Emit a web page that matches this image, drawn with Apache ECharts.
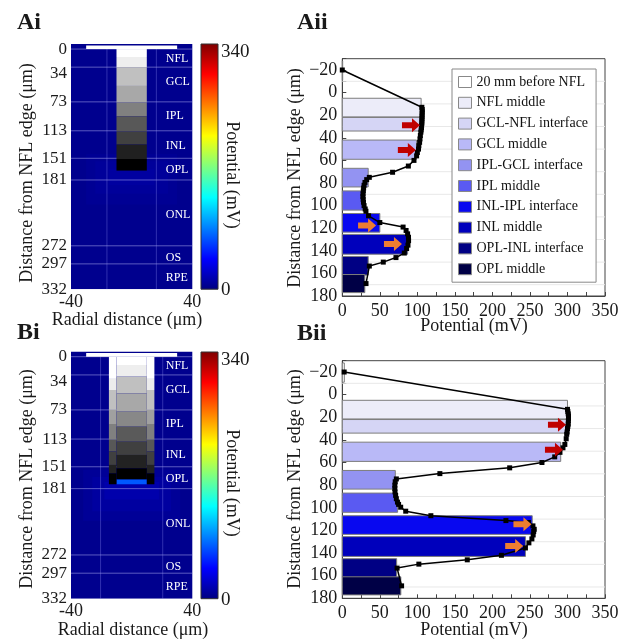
<!DOCTYPE html>
<html>
<head>
<meta charset="utf-8">
<script src="https://cdn.jsdelivr.net/npm/echarts@6/dist/echarts.min.js"></script>
<style>
html, body { margin: 0; padding: 0; background: #fff; }
#chart { width: 633px; height: 640px; }
</style>
</head>
<body>
<div id="chart"></div>
<script>
// ---- Retina cross-section (panels Ai / Bi) ----
const depthTicks = [0, 34, 73, 113, 151, 181, 272, 297, 332];
const layerLines = [0, 25, 73, 113, 151, 181, 272, 297];
const layerNames = ['NFL', 'GCL', 'IPL', 'INL', 'OPL', 'ONL', 'OS', 'RPE'];
const layerLabelDepth = [13, 46, 92, 134, 167, 229, 288, 316];
const radialTicks = [-40, 40];
const radialLinesA = [-16.3, 16.3];
const radialLinesB = [-20.5, 20.5];
const colorbarTicks = [0, 340];

// potential field cells: [x0, x1, depth0, depth1, potential mV]
const fieldA = [[-40, 40, -7, 332, 5], [-30, 30, 145, 215, 7], [-24, 24, 155, 200, 9], [-15, 15, 166, 188, 11]];
const fieldB = [[-40, 40, -7, 332, 5], [-32, 32, 155, 225, 8], [-26, 26, 165, 212, 11], [-18, 18, 172, 196, 15], [-10, 10, 168, 175, 72]];

// stimulating electrode footprint: [x0, x1, depth0, depth1, grey level]
const electrodeA = [
  [-30, 30, -5, 0, 255],
  [-10, 10, 0, 11, 255], [-10, 10, 11, 25, 238], [-10, 10, 25, 51, 192],
  [-10, 10, 51, 74, 168], [-10, 10, 74, 93, 128], [-10, 10, 93, 114, 88],
  [-10, 10, 114, 132, 64], [-10, 10, 132, 152, 32], [-10, 10, 152, 168, 0]
];
const electrodeB = [
  [-30, 30, -5, 0, 255],
  [-15, -10, 0, 30.5, 255], [10, 15, 0, 30.5, 255],
  [-15, -10, 30.5, 45.7, 236], [10, 15, 30.5, 45.7, 236],
  [-15, -10, 45.7, 73, 192], [10, 15, 45.7, 73, 192],
  [-15, -10, 73, 92.3, 160], [10, 15, 73, 92.3, 160],
  [-15, -10, 92.3, 114, 128], [10, 15, 92.3, 114, 128],
  [-15, -10, 114, 130, 88], [10, 15, 114, 130, 88],
  [-15, -10, 130, 148.5, 64], [10, 15, 130, 148.5, 64],
  [-15, -10, 148.5, 160, 34], [10, 15, 148.5, 160, 34],
  [-15, -10, 160, 175, 0], [10, 15, 160, 175, 0],
  [-10, 10, 0, 11.4, 255], [-10, 10, 11.4, 27.4, 238], [-10, 10, 27.4, 50.3, 192],
  [-10, 10, 50.3, 75.4, 168], [-10, 10, 75.4, 96, 136], [-10, 10, 96, 116.6, 90],
  [-10, 10, 116.6, 134.8, 64], [-10, 10, 134.8, 153.1, 34], [-10, 10, 153.1, 168.2, 0]
];

// ---- Potential profiles (panels Aii / Bii) ----
const barNames = ['20 mm before NFL', 'NFL middle', 'GCL-NFL interface', 'GCL middle',
  'IPL-GCL interface', 'IPL middle', 'INL-IPL interface', 'INL middle',
  'OPL-INL interface', 'OPL middle'];
const barTop = [-28, 5, 22, 42, 67, 87, 107, 125.5, 145, 161];
const barBottom = [-11, 21.5, 34, 59, 83.5, 104, 123.5, 143, 161.5, 177];
const barsA = [0.5, 105, 105, 99, 34.5, 28, 50, 87, 34.5, 30];
const barsB = [2.7, 300, 300, 291, 70.6, 73.7, 253, 244, 72.4, 78];

// [potential mV, depth µm]
const profileA = [[0, -20], [106, 13], [106.5, 15], [106.5, 17], [106.3, 19], [106.3, 21],
  [106.2, 23], [106, 25], [106, 27], [105.7, 29], [105.5, 31], [105, 33], [104.7, 35],
  [104, 38], [103.5, 41], [103, 44], [102, 47], [101.5, 50], [100, 53], [99, 56],
  [95.5, 60], [88, 65], [67, 70.5], [36, 75], [32.5, 77], [30.2, 79.5], [29, 82],
  [28.4, 84.5], [28, 87], [27.6, 89.5], [27.5, 92], [27.8, 94.5], [28.2, 97], [29, 100],
  [30.5, 103], [31.5, 105], [35, 109], [50, 115], [81, 119], [85, 122], [87, 125],
  [88.2, 128], [88.3, 131], [87.5, 135], [85.7, 138], [82.6, 142], [71.5, 146],
  [54.6, 150], [36, 153.5], [31.6, 169]];
const profileB = [[2.5, -20], [300, 13], [300.5, 15], [301, 17], [301.4, 19], [301.4, 21],
  [301.2, 23], [301, 26], [300.5, 28], [300, 30], [299.5, 33], [299, 35], [298.3, 39],
  [296.5, 44], [294, 47], [290, 51], [283, 55], [266, 60], [223, 64.7], [130, 69.8],
  [72, 74.5], [70.5, 77], [70, 80], [70, 83], [70.2, 86], [71, 89], [72, 92],
  [73.5, 95], [75, 97], [77.8, 99.5], [84.5, 103], [118, 107], [218, 111.3], [248, 113],
  [254, 116], [255.7, 119], [255, 121], [254.3, 124], [252.6, 127.5], [248.6, 131],
  [244, 135.5], [212, 142], [166.5, 146], [102, 149.8], [73, 153.3], [79, 169]];

const redArrowsA = [[91.5, 29], [86, 50.7]];
const orangeArrowsA = [[33, 117.5], [67.5, 134]];
const redArrowsB = [[286, 26.7], [282, 48.6]];
const orangeArrowsB = [[240, 114.6], [229, 133.7]];

const gridDepths = [-10, 10, 30, 50, 70, 90, 110, 130, 150, 170];

// ---- styling ----
const FONT = 'Liberation Serif';
const barPalette = ['#ffffff', '#ececf9', '#d5d5f5', '#b9b9f7', '#9393f2', '#5a5af2',
  '#0808f0', '#0000bc', '#000084', '#000046'];
const jet = ['#00007f', '#0000ff', '#007fff', '#00ffff', '#7fff7f', '#ffff00', '#ff7f00', '#ff0000', '#7f0000'];
const ARROW = 'path://M0,4 L10,4 L10,0 L18,7 L10,14 L10,10 L0,10 Z';

function rectBetween(api, a, b) {
  const p0 = api.coord(a), p1 = api.coord(b);
  return {
    x: Math.min(p0[0], p1[0]), y: Math.min(p0[1], p1[1]),
    width: Math.abs(p1[0] - p0[0]), height: Math.abs(p1[1] - p0[1])
  };
}

function fieldSeries(data, g) {
  return {
    type: 'custom', xAxisIndex: g, yAxisIndex: g, data: data, z: 1, silent: true, clip: true,
    renderItem: (params, api) => ({
      type: 'rect',
      shape: rectBetween(api, [api.value(0), api.value(2)], [api.value(1), api.value(3)]),
      style: { fill: api.visual('color') }
    })
  };
}
function electrodeSeries(data, g) {
  return {
    type: 'custom', xAxisIndex: g, yAxisIndex: g, data: data, z: 4, silent: true,
    renderItem: (params, api) => {
      const v = api.value(4);
      return {
        type: 'rect',
        shape: rectBetween(api, [api.value(0), api.value(2)], [api.value(1), api.value(3)]),
        style: { fill: 'rgb(' + v + ',' + v + ',' + v + ')' }
      };
    }
  };
}
function layerLineSeries(g) {
  return {
    type: 'custom', xAxisIndex: g, yAxisIndex: g, data: layerLines.map(d => [d]), z: 2, silent: true,
    renderItem: (params, api) => {
      const a = api.coord([-40, api.value(0)]), b = api.coord([40, api.value(0)]);
      return { type: 'line', shape: { x1: a[0], y1: a[1], x2: b[0], y2: b[1] },
        style: { stroke: 'rgba(200,200,255,0.45)', lineWidth: 1 } };
    }
  };
}
function radialLineSeries(lines, g) {
  return {
    type: 'custom', xAxisIndex: g, yAxisIndex: g, data: lines.map(x => [x]), z: 2, silent: true,
    renderItem: (params, api) => {
      const a = api.coord([api.value(0), 0]), b = api.coord([api.value(0), 332]);
      return { type: 'line', shape: { x1: a[0], y1: a[1], x2: b[0], y2: b[1] },
        style: { stroke: 'rgba(160,160,255,0.3)', lineWidth: 1 } };
    }
  };
}
function layerLabelSeries(g) {
  return {
    type: 'custom', xAxisIndex: g, yAxisIndex: g, z: 5, silent: true,
    data: layerNames.map((n, i) => [22.5, layerLabelDepth[i], n]),
    renderItem: (params, api) => {
      const p = api.coord([api.value(0), api.value(1)]);
      return { type: 'text', x: p[0], y: p[1],
        style: { text: layerNames[params.dataIndex], fill: '#ffffff', font: '12px ' + FONT,
          textAlign: 'left', textVerticalAlign: 'middle' } };
    }
  };
}
function colorbarSeries(g) {
  return {
    type: 'custom', xAxisIndex: g, yAxisIndex: g, z: 3, silent: true,
    data: [[0, colorbarTicks[0], 1, colorbarTicks[1]]],
    renderItem: (params, api) => ({
      type: 'rect',
      shape: rectBetween(api, [api.value(0), api.value(1)], [api.value(2), api.value(3)]),
      style: {
        fill: new echarts.graphic.LinearGradient(0, 1, 0, 0,
          jet.map((c, i) => ({ offset: i / (jet.length - 1), color: c }))),
        stroke: '#333', lineWidth: 1
      }
    })
  };
}
function gridLineSeries(g) {
  return {
    type: 'custom', xAxisIndex: g, yAxisIndex: g, z: 1, silent: true,
    data: gridDepths.map(d => [d]),
    renderItem: (params, api) => {
      const a = api.coord([0, api.value(0)]), b = api.coord([350, api.value(0)]);
      return { type: 'line', shape: { x1: a[0], y1: a[1], x2: b[0], y2: b[1] },
        style: { stroke: '#e8e8e8', lineWidth: 1 } };
    }
  };
}
function barSeries(values, g) {
  return barNames.map((name, i) => ({
    type: 'custom', name: name, xAxisIndex: g, yAxisIndex: g, z: 2,
    itemStyle: { color: barPalette[i], borderColor: '#808080' },
    data: [[barTop[i], barBottom[i], values[i]]],
    renderItem: (params, api) => ({
      type: 'rect',
      shape: rectBetween(api, [0, api.value(0)], [api.value(2), api.value(1)]),
      style: { fill: barPalette[i], stroke: '#7c7c7c', lineWidth: 1 }
    })
  }));
}
function profileSeries(data, g) {
  return {
    type: 'line', xAxisIndex: g, yAxisIndex: g, data: data, z: 5,
    symbol: 'rect', symbolSize: 5, showAllSymbol: true,
    lineStyle: { color: '#000', width: 1.5 }, itemStyle: { color: '#000' }, silent: true
  };
}
function arrowSeries(data, color, g) {
  return {
    type: 'scatter', xAxisIndex: g, yAxisIndex: g, data: data, z: 7, silent: true,
    symbol: ARROW, symbolSize: [18, 14], itemStyle: { color: color, opacity: 1 }
  };
}

const tickText = { color: '#1a1a1a', fontFamily: FONT, fontSize: 18 };

function sectionAxes(g) {
  return {
    x: { gridIndex: g, type: 'value', min: -40, max: 40,
      axisLine: { show: false }, axisTick: { show: false }, splitLine: { show: false },
      axisLabel: Object.assign({ customValues: radialTicks, margin: 4,
        formatter: v => (v < 0 ? '-' : '') + Math.abs(v) }, tickText) },
    y: { gridIndex: g, type: 'value', min: -7, max: 332, inverse: true,
      axisLine: { show: false }, axisTick: { show: false }, splitLine: { show: false },
      axisLabel: Object.assign({ customValues: depthTicks, margin: 4 }, tickText, { fontSize: 17 }) }
  };
}
function colorbarAxes(g) {
  return {
    x: { gridIndex: g, type: 'value', min: 0, max: 1, show: false },
    y: { gridIndex: g, type: 'value', min: colorbarTicks[0], max: colorbarTicks[1], position: 'right',
      axisLine: { show: false }, axisTick: { show: false }, splitLine: { show: false },
      axisLabel: { customValues: colorbarTicks, margin: 3,
        formatter: v => v === colorbarTicks[1] ? '{hi|' + v + '}' : '{lo|' + v + '}',
        rich: {
          hi: { fontFamily: FONT, fontSize: 19, color: '#1a1a1a', padding: [16, 0, 0, 0] },
          lo: { fontFamily: FONT, fontSize: 19, color: '#1a1a1a', padding: [2, 0, 0, 0] }
        } } }
  };
}
function profileAxes(g) {
  return {
    x: { gridIndex: g, type: 'value', min: 0, max: 350, interval: 25,
      axisLine: { show: true, onZero: false, lineStyle: { color: '#444' } },
      axisTick: { show: true, inside: true, length: 4, lineStyle: { color: '#444' } },
      splitLine: { show: false },
      axisLabel: Object.assign({ margin: 6, formatter: v => (v % 50 === 0 ? String(v) : '') }, tickText) },
    y: { gridIndex: g, type: 'value', min: -30, max: 180, interval: 10, inverse: true,
      axisLine: { show: true, onZero: false, lineStyle: { color: '#444' } },
      axisTick: { show: true, inside: true, length: 4, lineStyle: { color: '#444' } },
      splitLine: { show: false },
      axisLabel: Object.assign({ margin: 5,
        formatter: v => (v % 20 === 0 ? (v < 0 ? '\u2212' + Math.abs(v) : String(v)) : '') }, tickText) }
  };
}

const axesList = [sectionAxes(0), colorbarAxes(1), profileAxes(2), sectionAxes(3), colorbarAxes(4), profileAxes(5)];

function txt(text, x, y, opts) {
  return Object.assign({ type: 'text', x: x, y: y, silent: true,
    style: Object.assign({ text: text, fill: '#1a1a1a', font: '18px ' + FONT,
      textAlign: 'center', textVerticalAlign: 'middle' }, opts && opts.style) }, opts && opts.el);
}

const option = {
  animation: false,
  backgroundColor: '#ffffff',
  textStyle: { fontFamily: FONT },
  grid: [
    { left: 71, top: 44, width: 121.3, height: 245.2 },
    { left: 201, top: 44, width: 17, height: 245.2 },
    { left: 342.3, top: 58.7, width: 262.7, height: 237.3, show: true, borderColor: '#444', borderWidth: 1, backgroundColor: 'transparent' },
    { left: 71, top: 351.6, width: 121.3, height: 247.1 },
    { left: 201, top: 352, width: 17, height: 246.7 },
    { left: 342.3, top: 360.7, width: 262.7, height: 237.6, show: true, borderColor: '#444', borderWidth: 1, backgroundColor: 'transparent' }
  ],
  xAxis: axesList.map(a => a.x),
  yAxis: axesList.map(a => a.y),
  visualMap: [{
    show: false, type: 'continuous', min: colorbarTicks[0], max: colorbarTicks[1],
    seriesIndex: [0, 6], dimension: 4, inRange: { color: jet }
  }],
  legend: {
    left: 452, top: 69, orient: 'vertical', selectedMode: false,
    itemWidth: 13, itemHeight: 11, itemGap: 6.8, icon: 'rect',
    padding: [6, 8, 6, 6], backgroundColor: '#ffffff', borderColor: '#888', borderWidth: 1,
    textStyle: { fontFamily: FONT, fontSize: 14, color: '#111' },
    itemStyle: { borderColor: '#888', borderWidth: 1 },
    data: barNames.map((n, i) => ({ name: n, itemStyle: { color: barPalette[i], borderColor: '#888', borderWidth: 1 } }))
  },
  series: [
    // Ai
    fieldSeries(fieldA, 0), layerLineSeries(0), radialLineSeries(radialLinesA, 0),
    electrodeSeries(electrodeA, 0), layerLabelSeries(0), colorbarSeries(1),
    // Bi
    fieldSeries(fieldB, 3), layerLineSeries(3), radialLineSeries(radialLinesB, 3),
    electrodeSeries(electrodeB, 3), layerLabelSeries(3), colorbarSeries(4),
    // Aii
    gridLineSeries(2), ...barSeries(barsA, 2), profileSeries(profileA, 2),
    arrowSeries(redArrowsA, '#c00000', 2), arrowSeries(orangeArrowsA, '#ed7d31', 2),
    // Bii
    gridLineSeries(5), ...barSeries(barsB, 5), profileSeries(profileB, 5),
    arrowSeries(redArrowsB, '#c00000', 5), arrowSeries(orangeArrowsB, '#ed7d31', 5)
  ],
  graphic: [
    txt('Ai', 17, 23, { style: { font: 'bold 24px ' + FONT, textAlign: 'left' } }),
    txt('Aii', 297, 23, { style: { font: 'bold 24px ' + FONT, textAlign: 'left' } }),
    txt('Bi', 17, 333, { style: { font: 'bold 24px ' + FONT, textAlign: 'left' } }),
    txt('Bii', 297, 334, { style: { font: 'bold 24px ' + FONT, textAlign: 'left' } }),
    txt('Distance from NFL edge (\u03bcm)', 27, 173, { el: { rotation: Math.PI / 2 } }),
    txt('Distance from NFL edge (\u03bcm)', 27, 479, { el: { rotation: Math.PI / 2 } }),
    txt('Distance from NFL edge (\u03bcm)', 295, 178, { el: { rotation: Math.PI / 2 } }),
    txt('Distance from NFL edge (\u03bcm)', 295, 479, { el: { rotation: Math.PI / 2 } }),
    txt('Radial distance (\u03bcm)', 127, 320),
    txt('Radial distance (\u03bcm)', 133, 630),
    txt('Potential (mV)', 232, 175, { el: { rotation: -Math.PI / 2 } }),
    txt('Potential (mV)', 232, 483, { el: { rotation: -Math.PI / 2 } }),
    txt('Potential (mV)', 474, 326),
    txt('Potential (mV)', 474, 630)
  ]
};

const chart = echarts.init(document.getElementById('chart'), null, { renderer: 'canvas' });
chart.setOption(option);
</script>
</body>
</html>
